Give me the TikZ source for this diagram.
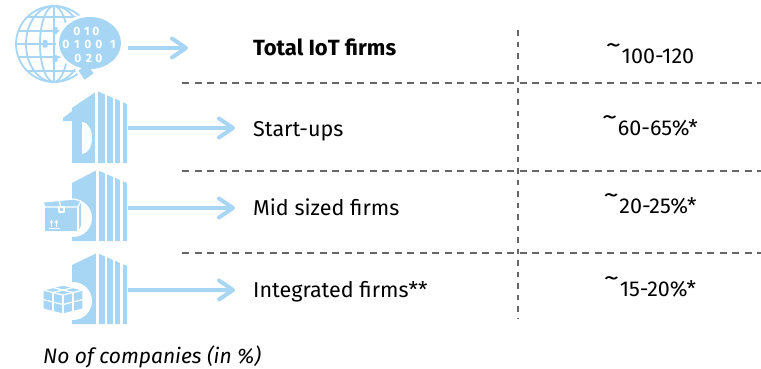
\documentclass[tikz,border=0pt]{standalone}
\usepackage{fontspec}
\setmainfont{Fira Sans}
\usetikzlibrary{arrows.meta}
\definecolor{iconblue}{RGB}{166,214,244}
\definecolor{dashgray}{RGB}{102,102,102}
\newcommand\apx{\raisebox{0.42em}{\scalebox{1.45}[1.2]{\textasciitilde}}\kern0.03em}
\newcommand\bldgbody[2]{%
  \begin{scope}[shift={(0,#1)}]
    \fill[iconblue] (72,#2) -- (97,0) -- (127,13) -- (127,71) -- (72,71) -- cycle;
    \foreach \gx/\gw in {97.5/3, 106/2.2, 114/2.2, 121.5/2.2}
      \draw[white, line width=\gw pt] (\gx,-2) -- (\gx,73);
    \fill[white] (73,48) circle (19);
  \end{scope}}
\begin{document}
\begin{tikzpicture}[x=1pt,y=-1pt,
  conn/.style={draw=iconblue, line width=4pt,
    -{Straight Barb[length=14pt,width=19pt,round]}},
  hline/.style={draw=dashgray, line width=1.8pt, dash pattern=on 7pt off 5.5pt},
  vline/.style={draw=dashgray, line width=1.5pt, dash pattern=on 5.5pt off 6pt},
  txt/.style={font=\fontsize{21.5}{24}\selectfont, inner sep=0pt, text=black},
  lbl/.style={txt, anchor=base west},
  val/.style={txt, anchor=base},
  globeline/.style={draw=iconblue, line width=1.8pt},
  digit/.style={font=\fontsize{12}{12}\selectfont\bfseries, text=white, inner sep=0pt},
  iconline/.style={draw=white, line width=1.2pt, line join=round}]
\useasboundingbox (0,0) rectangle (761,368);

% ---------- globe icon ----------
\begin{scope}
  \draw[globeline] (54,44) circle (38);
  \draw[globeline] (54,44) ellipse [x radius=14, y radius=38];
  \draw[globeline] (54,44) ellipse [x radius=28, y radius=38];
  \draw[globeline] (54,6) -- (54,82);
  \draw[globeline] (16,44) -- (92,44);
  \draw[globeline] (18.3,31) -- (89.7,31);
  \draw[globeline] (18.3,57) -- (89.7,57);
  \draw[globeline] (27.5,17) -- (80.5,17);
  \draw[globeline] (27.5,71) -- (80.5,71);
  \fill[iconblue, rounded corners=1pt] (52.5,27) rectangle (57.5,34);
  \fill[iconblue, rounded corners=1pt] (42.5,40) rectangle (47.5,47.5);
  \fill[iconblue, rounded corners=1pt] (52.5,55) rectangle (57.5,62);
  \fill[white] (90,43) ellipse [x radius=34, y radius=29];
  \fill[white, rotate around={35:(86,72)}] (78,64) rectangle (94,80);
  \fill[iconblue] (90,43) ellipse [x radius=31, y radius=26];
  \fill[iconblue, rotate around={35:(86,72)}] (80.5,66.5) rectangle (91.5,77.5);
\end{scope}
\foreach \dx/\dy/\dd [count=\i] in {77/31/0, 87/31/1, 96/31/0,
    66/44/0, 77/44/1, 88/44/0, 99/44/0, 113/44/1,
    78/58/0, 89/58/2, 99/58/0}
  \node[digit] (dg\i) at (\dx,\dy) {\dd};
\node[inner sep=0pt, minimum size=0pt] (globe) at (68,44) {};

% ---------- start-up building ----------
\fill[iconblue] (63,121) -- (63,118) -- (72,111) -- (72,108) -- (97,91) -- (127,104)
  -- (127,163) -- (72,163) -- (72,121) -- cycle;
\foreach \gx/\gw in {96.5/2.5, 106/2.2, 114/2.2, 121.5/2.2}
  \draw[white, line width=\gw pt] (\gx,89) -- (\gx,165);
\fill[white] (82,138) ellipse [x radius=10, y radius=16];
\fill[iconblue] (72,121) rectangle (82,156);
\node[inner sep=0pt, minimum size=0pt] (startup) at (95,127) {};

% ---------- mid sized building + box ----------
\bldgbody{170}{13}
\fill[iconblue] (45,207) -- (43,202) -- (74,199) -- (81,201) -- (81,226) -- (78,231)
  -- (45,231) -- cycle;
\draw[iconline] (45,207) -- (78,207) -- (81,201);
\draw[iconline] (78,207) -- (78,231);
\draw[iconline] (45,207) -- (43,202) -- (74,199) -- (81,201);
\draw[iconline] (61,207) -- (59,200.5);
\draw[iconline] (59,207) rectangle (64,212);
\draw[white, line width=1pt, -{Triangle[length=2.5pt,width=3.5pt]}] (51.5,227) -- (51.5,220);
\draw[white, line width=1pt, -{Triangle[length=2.5pt,width=3.5pt]}] (56.5,227) -- (56.5,220);
\draw[white, line width=0.9pt] (48.5,228.5) -- (59.5,228.5);
\node[inner sep=0pt, minimum size=0pt] (midsized) at (95,207) {};

% ---------- integrated building + cubes ----------
\bldgbody{253}{12}
\fill[iconblue] (43,290) -- (63,285) -- (83,290) -- (83,309) -- (63,314) -- (43,309) -- cycle;
\draw[iconline] (43,290) -- (63,285) -- (83,290) -- (63,295) -- cycle;
\draw[iconline] (63,295) -- (63,314);
\draw[iconline] (43,290) -- (43,309) -- (63,314) -- (83,309) -- (83,290);
\draw[iconline] (53,287.5) -- (73,292.5);
\draw[iconline] (73,287.5) -- (53,292.5);
\draw[iconline] (53,292.5) -- (53,311.5);
\draw[iconline] (73,292.5) -- (73,311.5);
\draw[iconline] (43,299.5) -- (63,304.5) -- (83,299.5);
\node[inner sep=0pt, minimum size=0pt] (integrated) at (95,290) {};

% ---------- grid ----------
\coordinate (h1a) at (182,83);  \coordinate (h1b) at (761,83);
\coordinate (h2a) at (182,171); \coordinate (h2b) at (761,171);
\coordinate (h3a) at (182,253); \coordinate (h3b) at (761,253);
\coordinate (v1a) at (518,30);  \coordinate (v1b) at (518,319);
\draw[hline] (h1a) -- (h1b);
\draw[hline] (h2a) -- (h2b);
\draw[hline] (h3a) -- (h3b);
\draw[vline] (v1a) -- (v1b);

% ---------- labels ----------
\node[lbl, font=\fontsize{22}{24}\selectfont\bfseries] (l1) at (253,55) {Total IoT firms};
\node[lbl] (l2) at (253,136) {Start-ups};
\node[lbl] (l3) at (253,215) {Mid sized firms};
\node[lbl] (l4) at (253,297) {Integrated firms**};
\node[val] (v1) at (650,63) {\apx 100-120};
\node[val] (v2) at (650,135) {\apx 60-65\%*};
\node[val] (v3) at (650,213) {\apx 20-25\%*};
\node[val] (v4) at (650,296) {\apx 15-20\%*};
\node[lbl, font=\fontsize{21}{24}\selectfont\itshape] (foot) at (43,363) {No of companies (in \%)};

% ---------- arrows ----------
\coordinate (a1s) at (128,48);  \coordinate (a1e) at (188,48);
\coordinate (a2s) at (128,128); \coordinate (a2e) at (235,128);
\coordinate (a3s) at (128,208); \coordinate (a3e) at (235,208);
\coordinate (a4s) at (128,290); \coordinate (a4e) at (235,290);
\draw[conn] (a1s) -- (a1e);
\draw[conn] (a2s) -- (a2e);
\draw[conn] (a3s) -- (a3e);
\draw[conn] (a4s) -- (a4e);
\end{tikzpicture}
\end{document}
